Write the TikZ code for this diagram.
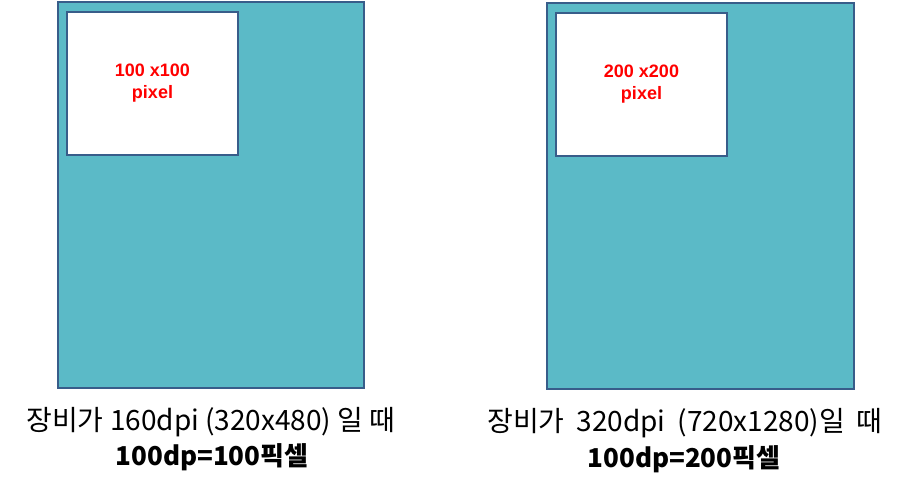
\documentclass[tikz,border=0pt]{standalone}
\usepackage{fontspec}
\setmainfont{Liberation Sans}
\newfontfamily\kor{Noto Sans CJK KR}
\usetikzlibrary{positioning}

\definecolor{screenfill}{RGB}{91,186,199}
\definecolor{screenline}{RGB}{56,93,138}

\tikzset{
  screen/.style={draw=screenline, line width=1.3pt, fill=screenfill, anchor=north west,
    inner sep=0pt, outer sep=0pt},
  icon/.style={draw=screenline, line width=1.3pt, fill=white, anchor=north west,
    inner sep=0pt, outer sep=0pt, minimum width=171pt, minimum height=143pt,
    align=center, text=red, font=\bfseries\fontsize{18}{24}\selectfont},
  caption/.style={font=\kor\fontsize{28}{30}\selectfont},
  result/.style={font=\kor\bfseries\fontsize{26}{30}\selectfont}
}

\begin{document}
\begin{tikzpicture}[x=1pt,y=-1pt]
\useasboundingbox (0,0) rectangle (918,491);
% 160dpi device
\node[screen, minimum width=306pt, minimum height=386pt] (screenA) at (58,2) {};
\node[icon] (iconA) at (67,12) {\raisebox{-2pt}{100 x100}\\pixel};
\node[caption] (capA) at (211,422) {장비가 160dpi (320x480) 일 때};
\node[result] (resA) at (212,457) {100dp=100픽셀};
% 320dpi device
\node[screen, minimum width=307pt, minimum height=386pt] (screenB) at (547,3) {};
\node[icon] (iconB) at (556,13) {\raisebox{-2pt}{200 x200}\\pixel};
\node[caption] (capB) at (685,423) {장비가\hspace{12pt}320dpi\hspace{12pt}(720x1280)일\hspace{12pt}때};
\node[result] (resB) at (684,459) {100dp=200픽셀};
\end{tikzpicture}
\end{document}
